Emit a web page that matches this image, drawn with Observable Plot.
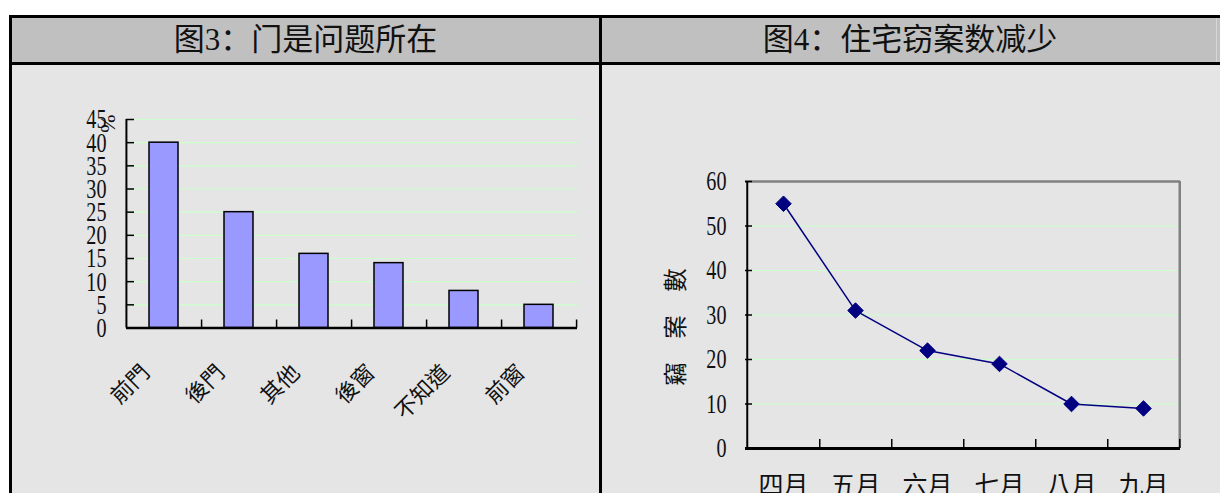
<!DOCTYPE html>
<html>
<head>
<meta charset="utf-8">
<script src="https://cdn.jsdelivr.net/npm/d3@7"></script>
<script src="https://cdn.jsdelivr.net/npm/@observablehq/plot@0.6"></script>
<style>
html, body { margin: 0; padding: 0; background: #ffffff; width: 1220px; height: 493px; overflow: hidden; }
#page { position: relative; width: 1220px; height: 493px; overflow: hidden; }
.abs { position: absolute; }
.title { position: absolute; top: 18px; height: 44px; line-height: 44px; text-align: center;
  font-family: "Liberation Serif", "Noto Sans CJK SC", serif; font-size: 31px; color: #111; white-space: nowrap; }
.chart { position: absolute; top: 65px; }
.chart svg { max-width: none; }
</style>
</head>
<body>
<div id="page">
  <div class="abs" style="left:12px;top:18px;width:1208px;height:44px;background:#c0c0c0;"></div>
  <div class="abs" style="left:12px;top:65px;width:1208px;height:428px;background:#e5e5e5;"></div>
  <div class="abs" style="left:1216px;top:18px;width:1px;height:44px;background:#d6d6d6;"></div>
  <div class="abs" style="left:9px;top:15px;width:1211px;height:3px;background:#000;"></div>
  <div class="abs" style="left:9px;top:62px;width:1211px;height:3px;background:#000;"></div>
  <div class="abs" style="left:9px;top:15px;width:3px;height:478px;background:#000;"></div>
  <div class="abs" style="left:599px;top:15px;width:3px;height:478px;background:#000;"></div>
  <div id="t1" class="title" style="left:12px;width:587px;"></div>
  <div id="t2" class="title" style="left:602px;width:616px;"></div>
  <div id="c1" class="chart" style="left:0px;width:599px;height:428px;"></div>
  <div id="c2" class="chart" style="left:600px;width:620px;height:428px;"></div>
</div>
<script>
// ---- data ----
const titleLeft = "图3：门是问题所在";
const titleRight = "图4：住宅窃案数减少";
const doorCategories = ["前門", "後門", "其他", "後窗", "不知道", "前窗"];
const doorPercent = [40, 25, 16, 14, 8, 5];
const doorTicks = [0, 5, 10, 15, 20, 25, 30, 35, 40, 45];
const doorUnit = "%";
const months = ["四月", "五月", "六月", "七月", "八月", "九月"];
const burglaries = [55, 31, 22, 19, 10, 9];
const burglaryTicks = [0, 10, 20, 30, 40, 50, 60];
const burglaryLabel = "竊　案　數";

document.getElementById("t1").textContent = titleLeft;
document.getElementById("t2").textContent = titleRight;

const grid = "#ccffcc";

// ---- left chart ----
const LW = 599, LH = 428, LM = {top: 54, right: 22, bottom: 165.5, left: 126};
const lInnerW = LW - LM.left - LM.right;
const lInnerH = LH - LM.top - LM.bottom;
const lStep = lInnerW / doorCategories.length;
const doorData = doorCategories.map((c, i) => ({cat: c, pct: doorPercent[i]}));

const left = Plot.plot({
  width: LW, height: LH,
  marginTop: LM.top, marginRight: LM.right, marginBottom: LM.bottom, marginLeft: LM.left,
  style: {background: "transparent", fontFamily: "Liberation Serif", color: "#111", overflow: "visible"},
  x: {type: "band", domain: doorCategories, paddingInner: 0.61, paddingOuter: 0.305},
  y: {domain: [0, 45]},
  marks: [
    Plot.ruleY(doorTicks.filter(d => d > 0), {y: d => d, stroke: grid, strokeWidth: 1.2}),
    Plot.barY(doorData, {x: "cat", y: "pct", fill: "#9999ff", stroke: "#000", strokeWidth: 1.5}),
    Plot.ruleX([doorCategories[0]], {x: d => d, dx: -lStep / 2, stroke: "#000", strokeWidth: 2}),
    Plot.tickY(doorTicks, {y: d => d, insetRight: lInnerW - 8, stroke: "#000", strokeWidth: 1.5}),
    Plot.tickX(doorCategories, {x: d => d, dx: lStep / 2, insetTop: lInnerH - 8, stroke: "#000", strokeWidth: 1.5}),
    Plot.ruleY([0], {y: d => d, stroke: "#000", strokeWidth: 2.5}),
    Plot.axisY({ticks: doorTicks, tickSize: 0, tickPadding: 20, fontSize: 28, fontFamily: "Liberation Serif", label: null, tickFormat: d => String(d)}),
    Plot.text([doorUnit], {frameAnchor: "top-left", text: d => d, rotate: 90, dx: -10, dy: -5, fontSize: 22, fontFamily: "Liberation Serif"}),
    Plot.axisX({tickRotate: -45, tickSize: 0, tickPadding: 0, fontSize: 22, fontFamily: "Noto Sans CJK TC", label: null, dx: -18, dy: 41})
  ]
});
document.getElementById("c1").appendChild(left);

// ---- right chart ----
const RW = 620, RH = 428, RM = {top: 116, right: 40, bottom: 45, left: 145};
const rInnerW = RW - RM.left - RM.right;
const rInnerH = RH - RM.top - RM.bottom;
const rStep = rInnerW / months.length;
const burgData = months.map((m, i) => ({m, n: burglaries[i]}));

const right = Plot.plot({
  width: RW, height: RH,
  marginTop: RM.top, marginRight: RM.right, marginBottom: RM.bottom, marginLeft: RM.left,
  style: {background: "transparent", fontFamily: "Liberation Serif", color: "#111", overflow: "visible"},
  x: {type: "band", domain: months, padding: 0},
  y: {domain: [0, 60]},
  marks: [
    Plot.ruleY(burglaryTicks.filter(d => d > 0 && d < 60), {y: d => d, stroke: grid, strokeWidth: 1.2}),
    Plot.ruleY([60], {y: d => d, stroke: "#808080", strokeWidth: 2.5}),
    Plot.ruleX([months[months.length - 1]], {x: d => d, dx: rStep / 2, stroke: "#808080", strokeWidth: 2.5}),
    Plot.ruleX([months[0]], {x: d => d, dx: -rStep / 2, stroke: "#000", strokeWidth: 2}),
    Plot.tickY(burglaryTicks, {y: d => d, insetRight: rInnerW - 7, stroke: "#000", strokeWidth: 1.5}),
    Plot.tickX(months, {x: d => d, dx: rStep / 2, insetTop: rInnerH - 9, stroke: "#000", strokeWidth: 1.5}),
    Plot.ruleY([0], {y: d => d, stroke: "#000", strokeWidth: 3}),
    Plot.line(burgData, {x: "m", y: "n", stroke: "#000080", strokeWidth: 1.5}),
    Plot.dot(burgData, {x: "m", y: "n", symbol: "diamond2", r: 7, fill: "#000080", stroke: "#000080", strokeWidth: 1}),
    Plot.axisY({ticks: burglaryTicks, tickSize: 0, tickPadding: 19, fontSize: 28, fontFamily: "Liberation Serif", label: null, tickFormat: d => String(d)}),
    Plot.axisX({tickSize: 0, tickPadding: 28, fontSize: 25, fontFamily: "Noto Sans CJK TC", label: null}),
    Plot.text([burglaryLabel], {frameAnchor: "left", text: d => d, textAnchor: "middle", rotate: -90, dx: -69, dy: 12, fontSize: 23.5, fontFamily: "Noto Sans CJK TC"})
  ]
});
document.getElementById("c2").appendChild(right);

// condensed serif tick numerals
document.querySelectorAll('g[aria-label="y-axis tick label"] text').forEach(t => {
  t.setAttribute("transform", (t.getAttribute("transform") || "") + " scale(0.72,1)");
});
</script>
</body>
</html>
